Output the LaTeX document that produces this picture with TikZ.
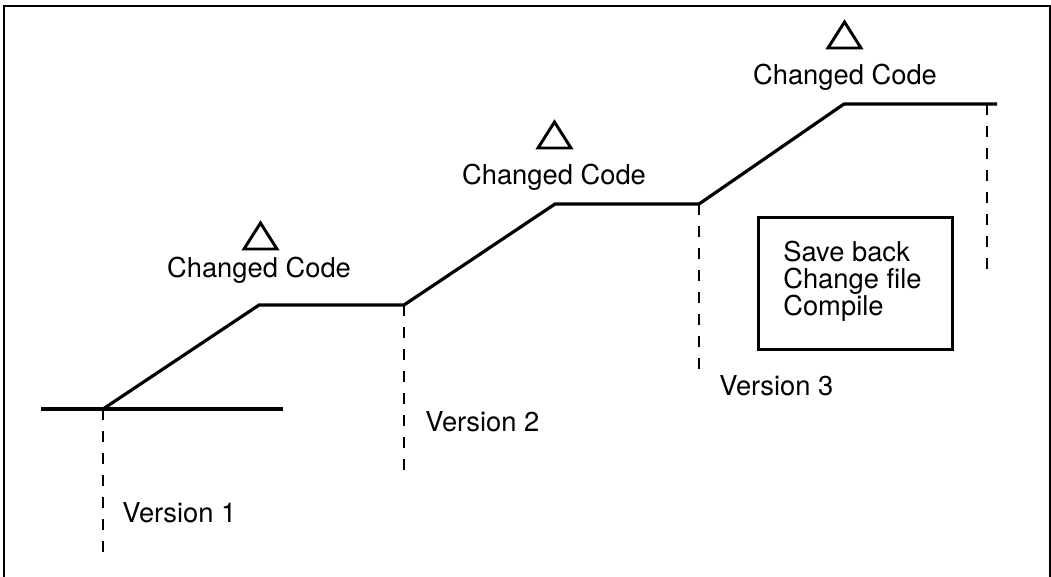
\documentclass[tikz,border=0pt]{standalone}
\usepackage{fontspec}
\setmainfont{TeX Gyre Heros}
\begin{document}
\begin{tikzpicture}[x=0.75pt,y=-0.75pt,
  solidline/.style={line width=2.4pt,line join=miter},
  dashline/.style={line width=2.2pt,dash pattern=on 8pt off 8.5pt},
  lbl/.style={anchor=base west,inner sep=0pt,font=\fontsize{20.5}{21}\selectfont},
  cclbl/.style={anchor=base,inner sep=0pt,font=\fontsize{20.5}{21}\selectfont},
  tri/.style={line width=2.2pt,line join=miter},
  boxst/.style={draw,line width=2.2pt}]
\useasboundingbox (0,0) rectangle (1051,576);
% frame
\draw[line width=1.5pt] (4,590) -- (4,6) -- (1050,6) -- (1050,590);
% coordinates
\coordinate (b0) at (41,409);
\coordinate (b1) at (283,409);
\coordinate (v1) at (103,409);
\coordinate (v1e) at (103,555);
\coordinate (p1) at (259,305);
\coordinate (v2) at (404,305);
\coordinate (v2e) at (404,473);
\coordinate (p2) at (555,204);
\coordinate (v3) at (699,204);
\coordinate (v3e) at (699,371);
\coordinate (p3) at (844,104);
\coordinate (p3e) at (997,104);
\coordinate (v4) at (987,104);
\coordinate (v4e) at (987,270);
% solid lines
\draw[solidline] (b0) -- (b1);
\draw[solidline] (v1) -- (p1) -- (v2) -- (p2) -- (v3) -- (p3) -- (p3e);
% dashed
\draw[dashline] (v1) -- (v1e);
\draw[dashline] (v2) -- (v2e);
\draw[dashline] (v3) -- (v3e);
\draw[dashline] (v4) -- (v4e);
% triangles
\draw[tri] (244,249) -- (260.5,223) -- (277,249) -- cycle;
\draw[tri] (538,148) -- (554.5,122) -- (571,148) -- cycle;
\draw[tri] (828,48) -- (844.5,22) -- (861,48) -- cycle;
% labels
\node[cclbl] (cc1) at (259,277) {Changed Code};
\node[cclbl] (cc2) at (554,184) {Changed Code};
\node[cclbl] (cc3) at (845,84) {Changed Code};
\node[lbl] (ver1) at (122,522) {Version 1};
\node[lbl] (ver2) at (425,431) {Version 2};
\node[lbl] (ver3) at (719,395) {Version 3};
% box
\node[boxst,minimum width=194*0.75pt,minimum height=132*0.75pt,anchor=north west,inner sep=0pt] (box) at (757,216) {};
\node[lbl] (s1) at (783,261) {Save back};
\node[lbl] (s2) at (783,288) {Change file};
\node[lbl] (s3) at (783,315) {Compile};
\end{tikzpicture}
\end{document}
